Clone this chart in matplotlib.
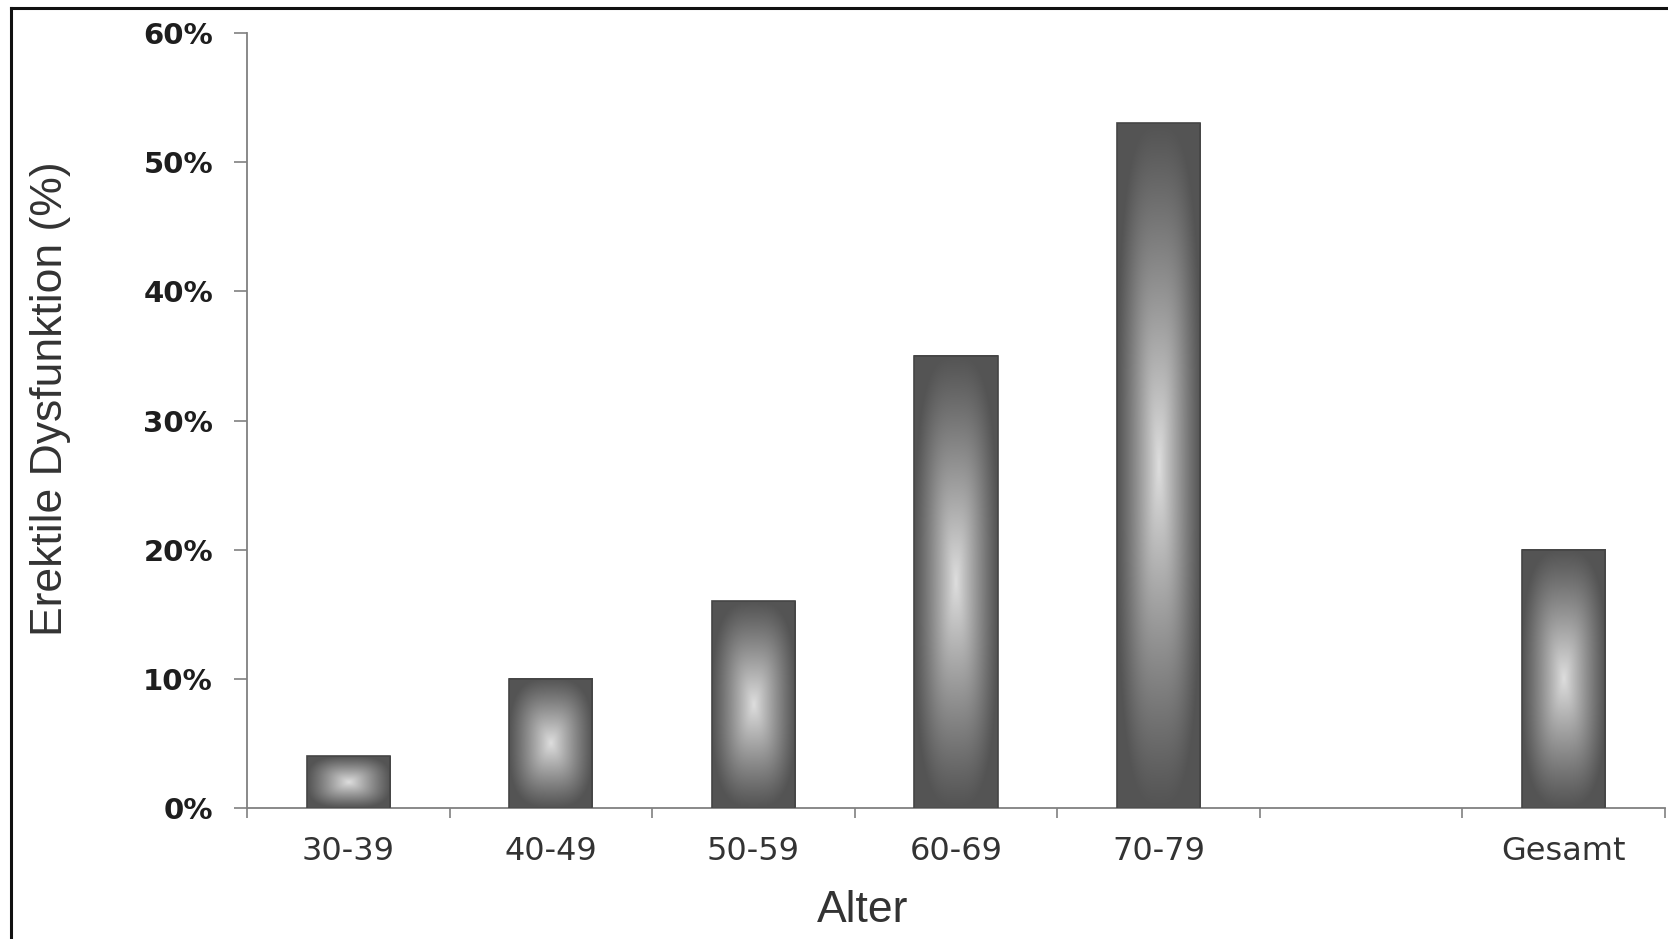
import numpy as np
import matplotlib
matplotlib.use("Agg")
import matplotlib.pyplot as plt
from matplotlib.lines import Line2D

categories = ["30-39", "40-49", "50-59", "60-69", "70-79", "", "Gesamt"]
values = [4, 10, 16, 35, 53, np.nan, 20]
yticks = [0, 10, 20, 30, 40, 50, 60]
ylabel = "Erektile Dysfunktion (%)"
xlabel = "Alter"

W, H = 1668, 939
fig = plt.figure(figsize=(W / 100, H / 100), dpi=100)
fig.patch.set_facecolor("white")
ax = fig.add_axes([247 / W, 1 - 808 / H, (1665 - 247) / W, (808 - 33) / H])

x = np.arange(len(categories))
vals = np.array(values, dtype=float)
mask = np.isfinite(vals)
bars = ax.bar(x[mask], vals[mask], width=0.41, facecolor="none",
              edgecolor="#454545", linewidth=1.2, zorder=3)

# soft rectangular "from center" gradient for each bar
n = 240
gu = np.linspace(-1, 1, n)
U, V = np.meshgrid(gu, gu)
dark, light = 0.33, 0.87
p = 3.0
t = np.clip((np.abs(U) ** p + np.abs(V) ** p) ** (1 / p), 0, 1)
g = dark + (light - dark) * (1 - t) ** 1.1
img = np.dstack([g, g, g])
for rect in bars:
    bx, bw, bh = rect.get_x(), rect.get_width(), rect.get_height()
    ax.imshow(img, extent=[bx, bx + bw, 0, bh], aspect="auto",
              interpolation="bilinear", zorder=2, origin="lower")

ax.set_xlim(-0.5, len(categories) - 0.5)
ax.set_ylim(0, 60)
ax.set_facecolor("white")

for s in ["top", "right"]:
    ax.spines[s].set_visible(False)
for s in ["left", "bottom"]:
    ax.spines[s].set_color("#808080")
    ax.spines[s].set_linewidth(1.3)

ax.set_yticks(yticks)
ax.set_yticklabels([f"{v}%" for v in yticks], fontfamily="DejaVu Sans",
                   fontweight="bold", fontsize=21, color="#1e1e1e")
ax.tick_params(axis="y", direction="out", length=9.5, width=1.2,
               color="#808080", pad=15)

ax.set_xticks(np.arange(len(categories) + 1) - 0.5)
ax.set_xticklabels([])
ax.set_xticks(x, minor=True)
ax.set_xticklabels(categories, minor=True, fontfamily="DejaVu Sans",
                   fontsize=23, color="#333333")
ax.tick_params(axis="x", which="major", direction="out", length=7,
               width=1.2, color="#808080")
ax.tick_params(axis="x", which="minor", length=0, pad=20)

fig.text(51 / W, 1 - 399 / H, ylabel, rotation=90, ha="center", va="center",
         fontfamily="Liberation Sans", fontsize=32, color="#333333")
fig.text(863 / W, 1 - 910 / H, xlabel, ha="center", va="center",
         fontfamily="Liberation Sans", fontsize=32, color="#333333")

# frame lines (top and left)
fig.add_artist(Line2D([11 / W, 1], [1 - 8 / H, 1 - 8 / H], transform=fig.transFigure,
                      color="#111111", linewidth=2.2))
fig.add_artist(Line2D([11 / W, 11 / W], [0, 1 - 8 / H], transform=fig.transFigure,
                      color="#111111", linewidth=2.2))

fig.savefig("out.png", dpi=100, facecolor="white")
